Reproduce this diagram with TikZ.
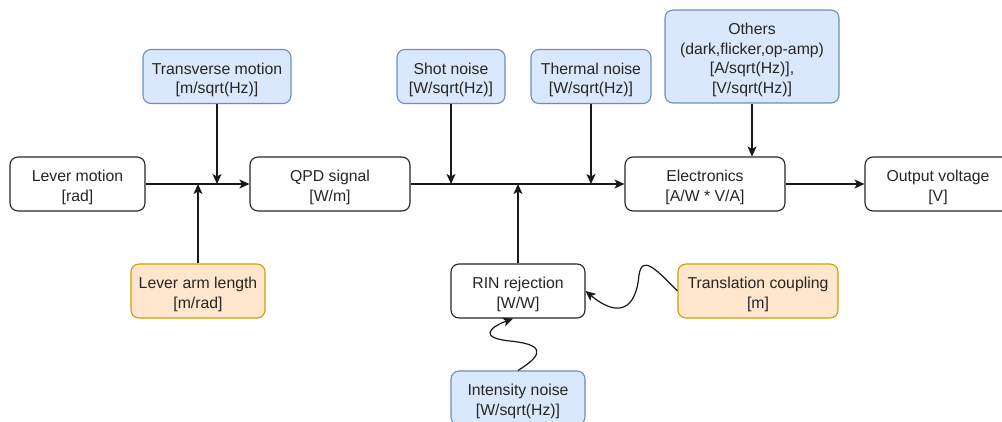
\documentclass[tikz,border=0pt]{standalone}
\usepackage{fontspec}
\setmainfont{Liberation Sans}
\usetikzlibrary{arrows.meta}
\definecolor{bfill}{HTML}{DAE8FC}
\definecolor{bdraw}{HTML}{6C8EBF}
\definecolor{ofill}{HTML}{FFE6CC}
\definecolor{odraw}{HTML}{D79B00}
\definecolor{txt}{HTML}{262626}
\newcommand\mystrut{\rule{0pt}{18pt}}
\begin{document}
\begin{tikzpicture}[x=1pt,y=-1pt,
  box/.style={draw, rounded corners=8pt, line width=1.1pt, align=center, inner sep=0pt,
    font=\fontsize{15.8}{19.5}\selectfont, text=txt, minimum height=54pt},
  plainbox/.style={box, fill=white, draw=black!85},
  bluebox/.style={box, fill=bfill, draw=bdraw},
  orangebox/.style={box, fill=ofill, draw=odraw},
  arr/.style={line width=1.2pt, draw=black!90, -{Stealth[length=10pt,width=9pt,inset=2.5pt]}}
]
\clip (0,0) rectangle (1002,421);
\fill[white] (0,0) rectangle (1002,421);

\node[plainbox, minimum width=135pt] (lm) at (77.5,184) {\mystrut Lever motion\\{}[rad]};
\node[plainbox, minimum width=160pt] (qpd) at (330,184) {\mystrut QPD signal\\{}[W/m]};
\node[plainbox, minimum width=160pt] (el) at (705,184) {\mystrut Electronics\\{}[A/W * V/A]};
\node[plainbox, minimum width=146pt] (out) at (938,184) {\mystrut Output voltage\\{}[V]};
\node[plainbox, minimum width=134pt] (rin) at (518,291) {\mystrut RIN rejection\\{}[W/W]};

\node[bluebox, minimum width=148pt] (tm) at (217,76.5) {\mystrut Transverse motion\\{}[m/sqrt(Hz)]};
\node[bluebox, minimum width=108pt] (sn) at (451,76.5) {\mystrut Shot noise\\{}[W/sqrt(Hz)]};
\node[bluebox, minimum width=120pt] (tn) at (591,76.5) {\mystrut Thermal noise\\{}[W/sqrt(Hz)]};
\node[bluebox, minimum width=174pt, minimum height=93pt] (oth) at (752,56.5) {\mystrut Others\\(dark,flicker,op-amp)\\{}[A/sqrt(Hz)],\\{}[V/sqrt(Hz)]};
\node[bluebox, minimum width=134pt] (in) at (518,398) {\mystrut Intensity noise\\{}[W/sqrt(Hz)]};

\node[orangebox, minimum width=134pt] (la) at (198,291) {\mystrut Lever arm length\\{}[m/rad]};
\node[orangebox, minimum width=160pt] (tc) at (758,291) {\mystrut Translation coupling\\{}[m]};

\draw[arr] (lm) -- (qpd);
\draw[arr] (qpd) -- (el);
\draw[arr] (el) -- (out);
\draw[arr] (tm) -- (tm |- lm);
\draw[arr] (la) -- (la |- lm);
\draw[arr] (sn) -- (sn |- qpd);
\draw[arr] (tn) -- (tn |- qpd);
\draw[arr] (rin) -- (rin |- qpd);
\draw[arr] (oth) -- (oth |- el.north);
\draw[arr] (tc.west) .. controls (655,268) and (642,255) .. (639,275)
  .. controls (636,310) and (618,318) .. (rin.east);
\draw[arr] (in.north) .. controls (548,352) and (540,344) .. (510,341)
  .. controls (480,338) and (488,328) .. ([xshift=-5pt]rin.south);
\end{tikzpicture}
\end{document}
